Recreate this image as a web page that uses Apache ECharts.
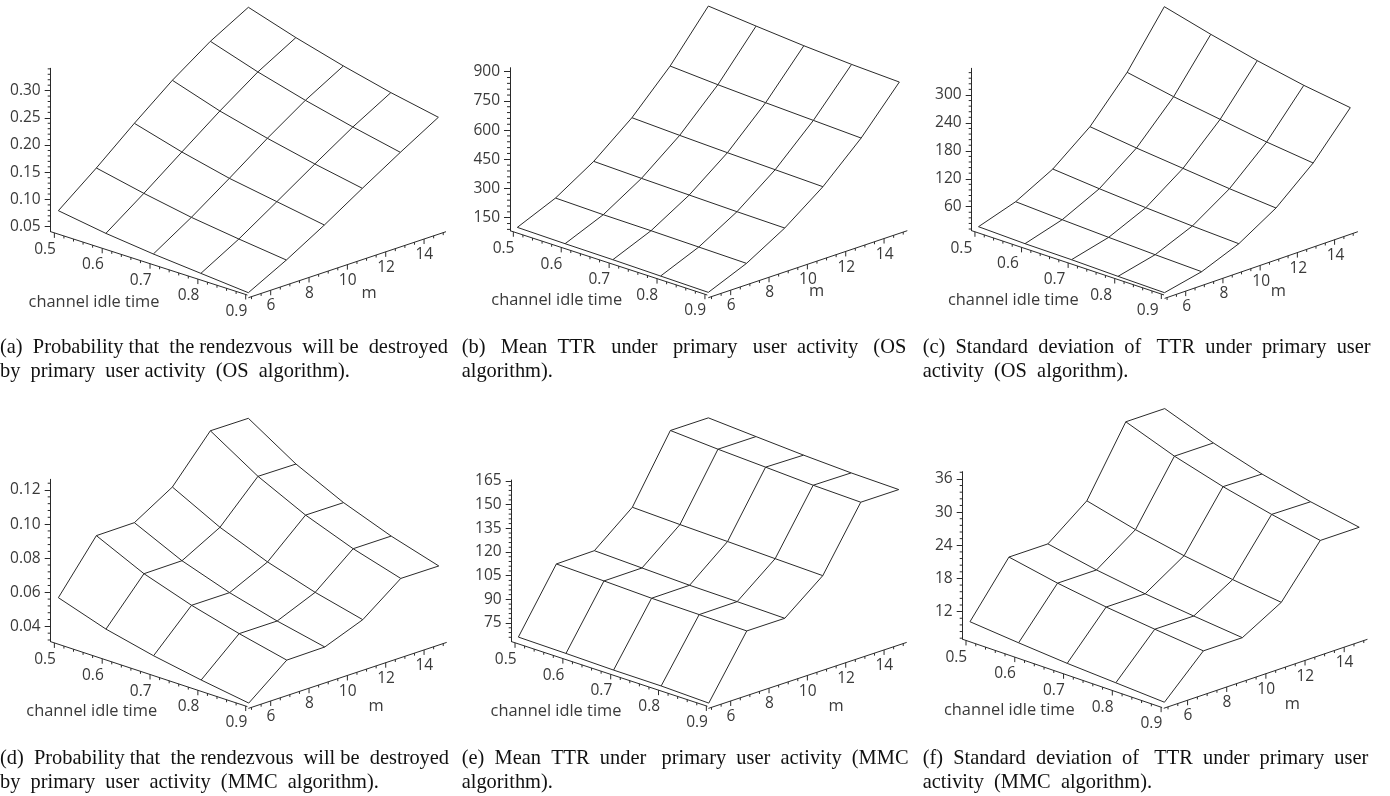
<!DOCTYPE html>
<html>
<head>
<meta charset="utf-8">
<style>html,body{margin:0;padding:0;background:#fff}#c{width:1390px;height:796px}</style>
<script src="https://cdn.jsdelivr.net/npm/echarts@6/dist/echarts.min.js"></script>
</head>
<body>
<div id="c"></div>
<script>
// ---------- data ----------
const idleTimes = [0.5, 0.6, 0.7, 0.8, 0.9];
const mValues = [5, 7, 9, 11, 13, 15];
const idleTickLabels = [0.5, 0.6, 0.7, 0.8, 0.9];
const mTickLabels = [6, 8, 10, 12, 14];

// each row is one m value, each column one channel idle time
const valuesA = [
  [0.0837, 0.0703, 0.0607, 0.0534, 0.0462],
  [0.1386, 0.1203, 0.1045, 0.0930, 0.0827],
  [0.1972, 0.1728, 0.1527, 0.1381, 0.1235],
  [0.2527, 0.2246, 0.2027, 0.1838, 0.1674],
  [0.3008, 0.2728, 0.2490, 0.2283, 0.2100],
  [0.3398, 0.3124, 0.2886, 0.2679, 0.2509]
];
const valuesB = [
  [112.3, 107.5, 104.4, 99.6, 94.8],
  [197.2, 190.7, 187.6, 182.8, 178.0],
  [319.8, 311.6, 305.1, 298.6, 293.8],
  [478.3, 466.7, 456.8, 448.5, 440.3],
  [677.9, 661.2, 647.8, 636.2, 624.5],
  [920.4, 896.7, 874.8, 858.1, 846.4]
];
const valuesC = [
  [22.0, 18.6, 17.3, 14.6, 12.6],
  [48.2, 42.6, 37.8, 33.6, 30.2],
  [90.9, 81.7, 74.0, 67.7, 62.8],
  [154.4, 141.6, 131.0, 120.4, 112.0],
  [243.6, 224.4, 208.8, 193.2, 181.2],
  [357.2, 330.9, 307.4, 287.5, 272.6]
];
const valuesD = [
  [0.0582, 0.0488, 0.0422, 0.0370, 0.0325],
  [0.0871, 0.0738, 0.0643, 0.0567, 0.0502],
  [0.0872, 0.0739, 0.0642, 0.0566, 0.0504],
  [0.1006, 0.0860, 0.0747, 0.0659, 0.0589],
  [0.1261, 0.1084, 0.0947, 0.0840, 0.0756],
  [0.1259, 0.1081, 0.0945, 0.0839, 0.0754]
];
const valuesE = [
  [67.6, 67.0, 66.2, 65.9, 64.8],
  [105.8, 104.8, 103.6, 103.0, 102.4],
  [106.1, 104.9, 103.7, 103.1, 102.3],
  [125.5, 124.3, 123.3, 122.2, 121.2],
  [166.0, 163.9, 162.3, 160.6, 159.6],
  [165.9, 163.8, 161.8, 160.3, 159.5]
];
const valuesF = [
  [10.6, 9.8, 9.1, 8.6, 8.1],
  [19.9, 18.2, 16.9, 15.9, 15.0],
  [19.9, 18.2, 16.9, 15.9, 15.0],
  [25.3, 23.1, 21.4, 20.1, 19.0],
  [37.2, 34.0, 31.5, 29.5, 27.8],
  [37.2, 34.0, 31.4, 29.4, 27.8]
];
const zTicksA = [0.05, 0.10, 0.15, 0.20, 0.25, 0.30];
const zTicksB = [150, 300, 450, 600, 750, 900];
const zTicksC = [60, 120, 180, 240, 300];
const zTicksD = [0.04, 0.06, 0.08, 0.10, 0.12];
const zTicksE = [75, 90, 105, 120, 135, 150, 165];
const zTicksF = [12, 18, 24, 30, 36];

const idleAxisName = 'channel idle time';
const mAxisName = 'm';
const captionsA = ['(a) Probability that the rendezvous will be destroyed', 'by primary user activity (OS algorithm).'];
const captionsB = ['(b) Mean TTR under primary user activity (OS', 'algorithm).'];
const captionsC = ['(c) Standard deviation of TTR under primary user', 'activity (OS algorithm).'];
const captionsD = ['(d) Probability that the rendezvous will be destroyed', 'by primary user activity (MMC algorithm).'];
const captionsE = ['(e) Mean TTR under primary user activity (MMC', 'algorithm).'];
const captionsF = ['(f) Standard deviation of TTR under primary user', 'activity (MMC algorithm).'];

// ---------- layout ----------
const INK = '#2a2a2a', TXT = '#3a3a3a';
const TICK_FONT = '15.5px "Open Sans"';
const NAME_FONT = '16.4px "Open Sans"';
const CAP_FONT = '20.4px "Liberation Serif"';
const layouts = [
 {vals:valuesA,ticks:zTicksA,dec:2,minor:0.01,left:50.7,top:68.3,bottom:231.7,zMin:0.0408,zMax:0.341,
  sx0:7.67,dxT:47.5,dxM:38.0,shT:15.4,shM:12.8,
  t05:3.67,tDx:47.83,tEnd:196.7,tSlope:0.322,tLab:[-9.3,16.7],
  m0:[197.7,66],m1:[395.3,0],m6:220,mDx:19.17,mLab:[0.3,15.7],
  nameT:[94,302.7],nameM:[369,293.7],capX:0,capW:[447,352],capY:[347.5,371.5],cap:captionsA},
 {vals:valuesB,ticks:zTicksB,dec:0,minor:30,left:510,top:67.7,bottom:230.7,zMin:83.2,zMax:920.5,
  sx0:7.33,dxT:47.75,dxM:38.2,shT:15.4,shM:12.8,
  t05:3.33,tDx:47.9,tEnd:197.3,tSlope:0.326,tLab:[-9.8,16.7],
  m0:[198.3,67],m1:[397.3,0],m6:220.7,mDx:19.17,mLab:[0.6,15.7],
  nameT:[556.7,300],nameM:[816.7,291.7],capX:461.7,capW:[446,0],capY:[347.5,371.5],cap:captionsB},
 {vals:valuesC,ticks:zTicksC,dec:0,minor:12,left:971.7,top:68.3,bottom:230.7,zMin:8.4,zMax:357.3,
  sx0:7,dxT:47.8,dxM:38.2,shT:15.4,shM:12.8,
  t05:3.33,tDx:47.9,tEnd:197.7,tSlope:0.325,tLab:[-13.6,16.7],
  m0:[198.3,67.7],m1:[397,1],m6:220,mDx:19.13,mLab:[1,15.7],
  nameT:[1013.3,300],nameM:[1278.3,291.7],capX:922.7,capW:[447,205.5],capY:[347.5,371.5],cap:captionsC},
 {vals:valuesD,ticks:zTicksD,dec:2,minor:0.004,left:50.7,top:479.3,bottom:641.7,zMin:0.031,zMax:0.1263,
  sx0:7.67,dxT:47.6,dxM:38.0,shT:15.4,shM:12.8,
  t05:3.67,tDx:47.83,tEnd:196.7,tSlope:0.33,tLab:[-9.3,16.7],
  m0:[197.7,66.7],m1:[396,0.7],m6:220,mDx:19.17,mLab:[0.3,15.7],
  nameT:[91.7,711],nameM:[376,706],capX:0,capW:[447,376.7],capY:[758.5,782.5],cap:captionsD},
 {vals:valuesE,ticks:zTicksE,dec:0,minor:3,left:511.7,top:480,bottom:641.7,zMin:63.2,zMax:165.6,
  sx0:6.67,dxT:47.6,dxM:38.0,shT:15.4,shM:12.8,
  t05:3.33,tDx:47.83,tEnd:195.7,tSlope:0.33,tLab:[-9.3,16.7],
  m0:[196.7,66.7],m1:[395,0.7],m6:219,mDx:19.17,mLab:[0.3,15.7],
  nameT:[556,711],nameM:[836,706],capX:461.7,capW:[446,0],capY:[758.5,782.5],cap:captionsE},
 {vals:valuesF,ticks:zTicksF,dec:0,minor:1.2,left:962.7,top:471.7,bottom:639.3,zMin:7,zMax:37.3,
  sx0:7.33,dxT:48.92,dxM:39.2,shT:16.67,shM:13.2,
  t05:3.33,tDx:49.08,tEnd:200.7,tSlope:0.34,tLab:[-9.7,16.7],
  m0:[202.3,69],m1:[407.3,0],m6:226.3,mDx:19.7,mLab:[0.3,15.7],
  nameT:[1009.3,710],nameM:[1292.3,704.3],capX:922.7,capW:[447,230.5],capY:[758.5,782.5],cap:captionsF}
];
const GRID_W = 430;

// ---------- build ----------
const measure = document.createElement('canvas').getContext('2d');
measure.font = CAP_FONT;
function justify(line, target){
  if (!target) return line;
  const words = line.split(' ');
  const gaps = words.length - 1;
  if (gaps < 1) return line;
  const sp = measure.measureText(' ').width;
  const extra = Math.max(0, Math.round((target - measure.measureText(line).width) / sp));
  const cum = g => Math.floor(g * extra / gaps + 0.5);
  let out = words[0];
  for (let g = 0; g < gaps; g++){
    out += ' '.repeat(1 + cum(g + 1) - cum(g)) + words[g + 1];
  }
  return out;
}

const grid = [], xAxis = [], yAxis = [], series = [], graphic = [];

layouts.forEach((L, p) => {
  const height = L.bottom - L.top;
  const ppz = height / (L.zMax - L.zMin);
  // a position given as pixels right of the height axis and pixels below its foot, in axis units
  const offset = (x, drop) => [x, L.zMin - drop / ppz];

  grid.push({left: L.left, top: L.top, width: GRID_W, height: height, containLabel: false});
  xAxis.push({type: 'value', gridIndex: p, min: 0, max: GRID_W, show: false});
  yAxis.push({
    type: 'value', gridIndex: p, min: L.zMin, max: L.zMax, position: 'left',
    splitLine: {show: false},
    axisLine: {show: true, onZero: false, lineStyle: {color: INK, width: 1}},
    axisTick: {show: true, length: 6, customValues: L.ticks, lineStyle: {color: INK, width: 1}},
    axisLabel: {show: true, margin: 10, padding: [6, 0, 0, 0], customValues: L.ticks, color: TXT, fontFamily: 'Open Sans', fontSize: 15.5,
      formatter: v => Number(v).toFixed(L.dec)}
  });

  const project = (t, m, z) => {
    const i = (t - idleTimes[0]) / 0.1, j = (m - mValues[0]) / 2;
    return [L.sx0 + i * L.dxT + j * L.dxM, z - (L.shT * i - L.shM * j + 2.33) / ppz];
  };
  const wire = (name, data) => ({
    name, type: 'line', xAxisIndex: p, yAxisIndex: p, data, clip: false, silent: true,
    showSymbol: false, symbol: 'none', animation: false, lineStyle: {color: INK, width: 1}
  });

  // surface wires
  mValues.forEach((m, j) => series.push(wire('m=' + m, idleTimes.map((t, i) => project(t, m, L.vals[j][i])))));
  idleTimes.forEach((t, i) => series.push(wire('t=' + t, mValues.map((m, j) => project(t, m, L.vals[j][i])))));

  // slanted axes
  const idleX = t => L.t05 + (t - 0.5) * 10 * L.tDx;
  const mX = m => L.m6 + (m - 6) * L.mDx;
  const mDrop = x => L.m0[1] + (x - L.m0[0]) * (L.m1[1] - L.m0[1]) / (L.m1[0] - L.m0[0]);
  series.push(wire('idle axis', [offset(0, 0), offset(L.tEnd, L.tEnd * L.tSlope)]));
  series.push(wire('m axis', [offset(L.m0[0], L.m0[1]), offset(L.m1[0], L.m1[1])]));

  const marks = [];
  for (let k = 0; k <= 20; k++){
    const t = 0.5 + k * 0.02, x = idleX(t), major = k % 5 === 0;
    marks.push({at: offset(x, x * L.tSlope), len: major ? 5 : 2.5,
      text: major ? idleTickLabels[k / 5].toFixed(1) : null, lab: L.tLab});
  }
  for (let k = 0; k <= 20; k++){
    const m = 5 + k * 0.5, x = mX(m), major = mTickLabels.includes(m);
    marks.push({at: offset(x, mDrop(x)), len: major ? 5 : 2.5,
      text: major ? String(m) : null, lab: L.mLab});
  }
  const k0 = Math.ceil(L.zMin / L.minor - 1e-6), k1 = Math.floor(L.zMax / L.minor + 1e-6);
  for (let k = k0; k <= k1; k++){
    if (k % 5 !== 0) marks.push({at: [0, k * L.minor], side: 3});
  }
  series.push({
    name: 'axis ticks', type: 'custom', xAxisIndex: p, yAxisIndex: p, silent: true, animation: false,
    encode: {x: 0, y: 1},
    data: marks.map(k => k.at),
    renderItem: (params, api) => {
      const k = marks[params.dataIndex];
      const c = api.coord([api.value(0), api.value(1)]);
      const children = [{type: 'line',
        shape: k.side ? {x1: c[0] - k.side, y1: c[1], x2: c[0], y2: c[1]} : {x1: c[0], y1: c[1], x2: c[0], y2: c[1] + k.len},
        style: {stroke: INK, lineWidth: 1}}];
      if (k.text) children.push({type: 'text', x: c[0] + k.lab[0], y: c[1] + k.lab[1],
        style: {text: k.text, font: TICK_FONT, fill: TXT, align: 'center', verticalAlign: 'middle'}});
      return {type: 'group', children};
    }
  });

  // axis names and captions
  const plain = (text, x, y, font, fill, align) => ({type: 'text', x, y, silent: true,
    style: {text, font, fill, align, verticalAlign: 'middle'}});
  graphic.push(plain(idleAxisName, L.nameT[0], L.nameT[1], NAME_FONT, TXT, 'center'));
  graphic.push(plain(mAxisName, L.nameM[0], L.nameM[1], NAME_FONT, TXT, 'center'));
  L.cap.forEach((line, n) => graphic.push(plain(justify(line, L.capW[n]), L.capX, L.capY[n], CAP_FONT, '#111', 'left')));
});

const chart = echarts.init(document.getElementById('c'), null, {renderer: 'canvas'});
chart.setOption({animation: false, backgroundColor: '#fff', grid, xAxis, yAxis, series, graphic});
</script>
</body>
</html>
